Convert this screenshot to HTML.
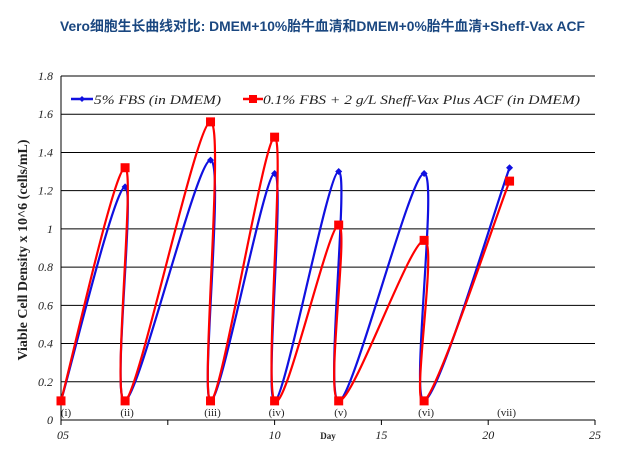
<!DOCTYPE html>
<html><head><meta charset="utf-8"><style>
body{margin:0;background:#fff;width:627px;height:469px;overflow:hidden}
svg{display:block}
</style></head><body>
<svg id="chart" width="627" height="469">
<text x="60" y="31" fill="#1a4780" font-size="14" font-weight="bold" textLength="525" lengthAdjust="spacingAndGlyphs" font-family="'Liberation Sans','Noto Sans CJK SC',sans-serif">Vero细胞生长曲线对比: DMEM+10%胎牛血清和DMEM+0%胎牛血清+Sheff-Vax ACF</text>
<g id="grid"></g>
<g id="axes"></g>
<g id="series"></g>
<text transform="translate(27,250) rotate(-90)" text-anchor="middle" font-family="'Liberation Serif',serif" font-weight="bold" font-size="14" fill="#222">Viable Cell Density  x  10^6 (cells/mL)</text>
<text x="328" y="439" text-anchor="middle" font-family="'Liberation Serif',serif" font-weight="bold" font-size="9" fill="#222">Day</text>
<g font-family="'Liberation Serif',serif" font-style="italic" font-size="13" fill="#222">
<g>
<line x1="71" y1="99" x2="93" y2="99" stroke="#1010e0" stroke-width="2.5"/>
<path d="M82 96 L85 99 L82 102 L79 99Z" fill="#1010e0"/>
<text x="94" y="104" textLength="127" lengthAdjust="spacingAndGlyphs">5% FBS (in DMEM)</text>
</g>
<g>
<line x1="243" y1="99" x2="263" y2="99" stroke="#ff0000" stroke-width="2.5"/>
<rect x="249" y="95" width="8" height="8" fill="#ff0000"/>
<text x="263" y="104" textLength="317" lengthAdjust="spacingAndGlyphs">0.1% FBS + 2 g/L Sheff-Vax Plus ACF (in DMEM)</text>
</g>
</g>
</svg>
<script>
const days = [0,3,3,7,7,10,10,13,13,17,17,21];
const blueValues = [0.1,1.22,0.1,1.36,0.1,1.29,0.1,1.30,0.1,1.29,0.1,1.32];
const redValues = [0.1,1.32,0.1,1.56,0.1,1.48,0.1,1.02,0.1,0.94,0.1,1.25];
const yTicks = [0,0.2,0.4,0.6,0.8,1,1.2,1.4,1.6,1.8];
const yTickLabels = ["0","0.2","0.4","0.6","0.8","1","1.2","1.4","1.6","1.8"];
const xTicks = [0,5,10,15,20,25];
const xTickLabels = ["05","","10","15","20","25"];
const phaseDays = [0,3,7,10,13,17,21];
const phaseLabels = ["(i)","(ii)","(iii)","(iv)","(v)","(vi)","(vii)"];

const L=61,R=595,T=76,B=420;
const sx=d=>L+(d/25)*(R-L);
const sy=v=>B-(v/1.8)*(B-T);
const NS="http://www.w3.org/2000/svg";
function mk(tag,attrs,parent){const e=document.createElementNS(NS,tag);for(const k in attrs)e.setAttribute(k,attrs[k]);parent.appendChild(e);return e;}
const grid=document.getElementById('grid'),axes=document.getElementById('axes'),series=document.getElementById('series');
yTicks.forEach((v,i)=>{
  if(v>0){const g=mk('line',{x1:L,x2:R,y1:sy(v),y2:sy(v),stroke:'#000','stroke-width':1},grid);
  
  }
  const t=mk('text',{x:L-8,y:sy(v)+4,'text-anchor':'end','font-family':"'Liberation Serif',serif",'font-style':'italic','font-size':12,fill:'#222'},axes);
  t.textContent=yTickLabels[i];
  
  
});
mk('line',{x1:L,x2:L,y1:T,y2:B,stroke:'#000','stroke-width':1},axes);
mk('line',{x1:L,x2:R,y1:B,y2:B,stroke:'#000','stroke-width':1},axes);
xTicks.forEach((d,i)=>{
  mk('line',{x1:sx(d),x2:sx(d),y1:B,y2:B+5,stroke:'#000'},axes);
  if(xTickLabels[i]){
    const t=mk('text',{x:sx(d)+(i==0?2:0),y:B+19,'text-anchor':'middle','font-family':"'Liberation Serif',serif",'font-style':'italic','font-size':12,fill:'#222'},axes);
    t.textContent=xTickLabels[i];
    
    
  }
});
phaseDays.forEach((d,i)=>{
  const t=mk('text',{x:sx(d)+(i==0?5:(i==6?-3:2)),y:B-4,'text-anchor':'middle','font-family':"'Liberation Serif',serif",'font-size':11,fill:'#222'},axes);
  t.textContent=phaseLabels[i];
  
  
});
function smooth(pts){
  let d='M'+pts[0][0]+' '+pts[0][1];
  for(let i=0;i<pts.length-1;i++){
    const p0=pts[Math.max(0,i-1)],p1=pts[i],p2=pts[i+1],p3=pts[Math.min(pts.length-1,i+2)];
    const c1=[p1[0]+(p2[0]-p0[0])/6,p1[1]+(p2[1]-p0[1])/6];
    const c2=[p2[0]-(p3[0]-p1[0])/6,p2[1]-(p3[1]-p1[1])/6];
    d+=` C${c1[0]} ${c1[1]} ${c2[0]} ${c2[1]} ${p2[0]} ${p2[1]}`;
  }
  return d;
}
function drawSeries(vals,color,name,marker){
  const pts=days.map((d,i)=>[sx(d),sy(vals[i])]);
  const p=mk('path',{d:smooth(pts),fill:'none',stroke:color,'stroke-width':2.2},series);
  
  
  pts.forEach(([x,y])=>{
    let m;
    if(marker==='diamond') m=mk('path',{d:`M${x} ${y-3.5}L${x+3.5} ${y}L${x} ${y+3.5}L${x-3.5} ${y}Z`,fill:color},series);
    else m=mk('rect',{x:x-4.5,y:y-4.5,width:9,height:9,fill:color},series);
    
    
  });
}
drawSeries(blueValues,'#1010e0','fbs-5pct','diamond');
drawSeries(redValues,'#ff0000','sheff-vax','square');
</script>
</body></html>
